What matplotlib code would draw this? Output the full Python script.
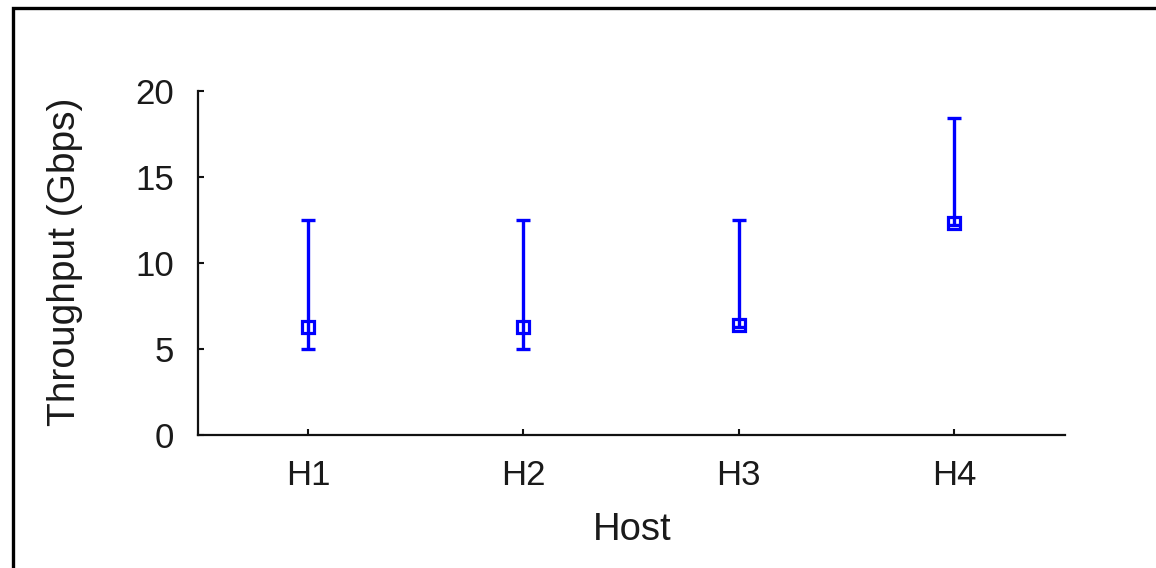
import matplotlib
matplotlib.use("Agg")
from matplotlib import pyplot as plt
from matplotlib.patches import Rectangle
import numpy as np

# data
hosts = ["H1", "H2", "H3", "H4"]
throughput = [6.3, 6.3, 6.4, 12.3]
low = [5.0, 5.0, 6.3, 12.2]
high = [12.5, 12.5, 12.5, 18.45]
y_ticks = [0, 5, 10, 15, 20]

plt.rcParams['font.family'] = ['Liberation Sans', 'DejaVu Sans']

fig = plt.figure(figsize=(11.56, 5.68), dpi=100)
ax = fig.add_axes([198 / 1156, 1 - 435 / 568, 867 / 1156, 344 / 568])

x = np.arange(1, len(hosts) + 1)
yerr = [np.array(throughput) - np.array(low), np.array(high) - np.array(throughput)]

# markers first, then the bars/caps on top of them
ax.plot(x, throughput, linestyle='none', marker='s', markersize=9,
        markerfacecolor='white', markeredgecolor='#0000ff', markeredgewidth=2.3, zorder=2)
ax.errorbar(x, throughput, yerr=yerr, fmt='none', ecolor='#0000ff',
            elinewidth=2.4, capsize=5.2, capthick=2.4, zorder=3)

ax.set_xlim(0.488, 4.516)
ax.set_ylim(0, 20)
ax.set_xticks(x)
ax.set_xticklabels(hosts)
ax.set_yticks(y_ticks)

for side in ['top', 'right']:
    ax.spines[side].set_visible(False)
for side in ['left', 'bottom']:
    ax.spines[side].set_linewidth(1.6)
    ax.spines[side].set_color('#111111')

ax.tick_params(direction='in', length=4, width=1.5, colors='#111111',
               labelsize=25, labelcolor='#1a1a1a')
ax.tick_params(axis='y', pad=17)
ax.tick_params(axis='x', pad=17)

ax.set_xlabel('Host', fontsize=27.5, color='#1a1a1a')
ax.set_ylabel('Throughput (Gbps)', fontsize=28, color='#1a1a1a')
ax.xaxis.label.set_va('center')
ax.yaxis.label.set_va('center')
ax.xaxis.set_label_coords((632 - 198) / 867, (435 - 530) / 344)
ax.yaxis.set_label_coords((65 - 198) / 867, (435 - 262) / 344)

# frame around the whole figure (cut off at right and bottom)
fig.patches.append(Rectangle((13 / 1156, -0.2), 1.2, 1.2 - 8 / 568,
                             transform=fig.transFigure, fill=False,
                             edgecolor='black', linewidth=2.4))

fig.savefig("out.png", dpi=100)
